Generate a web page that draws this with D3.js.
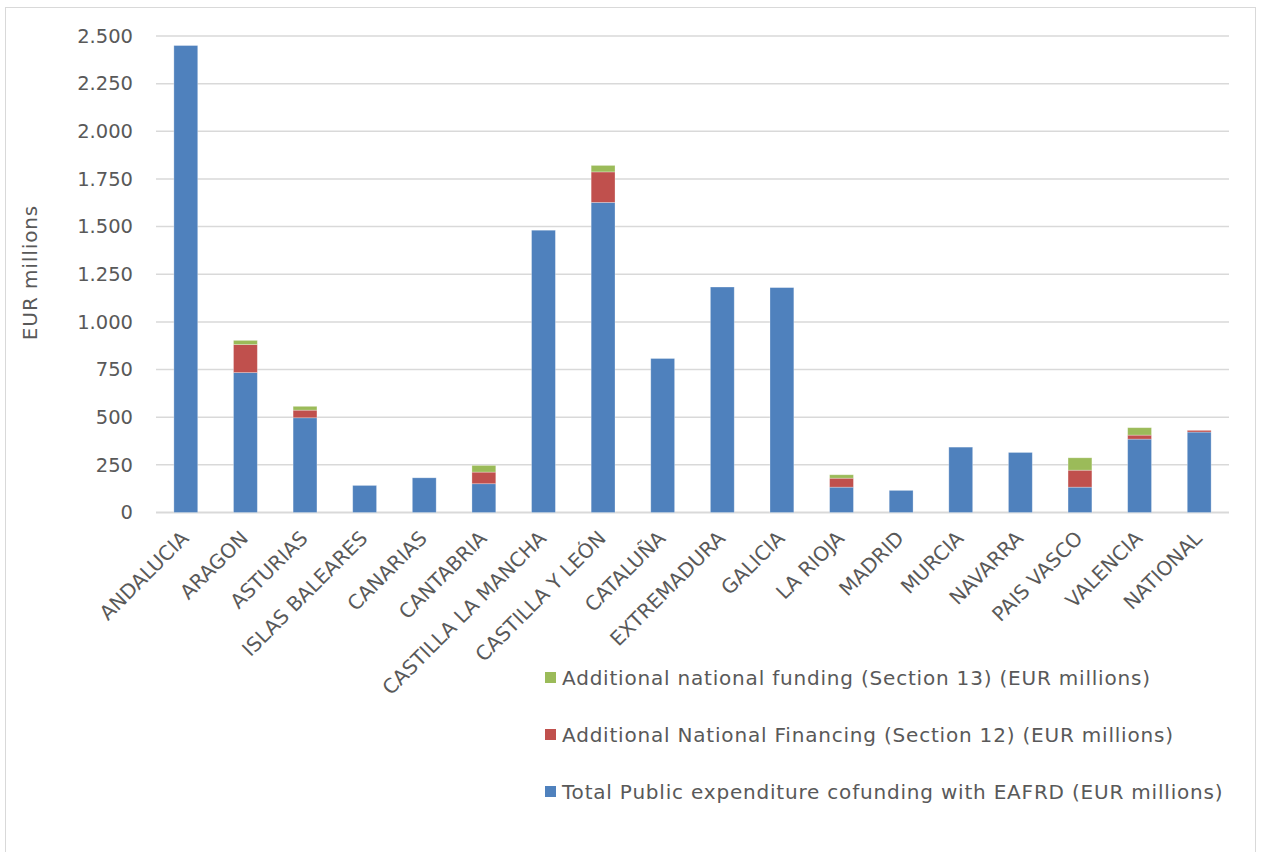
<!DOCTYPE html>
<html>
<head>
<meta charset="utf-8">
<script src="https://cdn.jsdelivr.net/npm/d3@7"></script>
<style>
  html, body { margin: 0; padding: 0; background: #fff; }
  svg { display: block; }
  text { font-family: "DejaVu Sans", Verdana, sans-serif; fill: #595959; }
</style>
</head>
<body>
<svg id="chart" width="1261" height="852"></svg>
<script>
// Regions (programme areas)
const regions = ["ANDALUCIA", "ARAGON", "ASTURIAS", "ISLAS BALEARES", "CANARIAS", "CANTABRIA",
  "CASTILLA LA MANCHA", "CASTILLA Y LEÓN", "CATALUÑA", "EXTREMADURA", "GALICIA", "LA RIOJA",
  "MADRID", "MURCIA", "NAVARRA", "PAIS VASCO", "VALENCIA", "NATIONAL"];

// Total public expenditure co-funded with EAFRD (EUR millions)
const eafrd = [2450, 734, 497, 142, 182, 151, 1481, 1627, 808, 1183, 1180, 133, 116, 343, 315, 133, 385, 422];
// Additional national financing, Section 12 (EUR millions)
const section12 = [0, 147, 40, 0, 0, 61, 0, 160, 0, 0, 0, 47, 0, 0, 0, 89, 21, 9];
// Additional national funding, Section 13 (EUR millions)
const section13 = [0, 22, 20, 0, 0, 35, 0, 34, 0, 0, 0, 18, 0, 0, 0, 65, 39, 0];

const yTicks = [0, 250, 500, 750, 1000, 1250, 1500, 1750, 2000, 2250, 2500];

const seriesNames = [
  "Total Public expenditure cofunding with EAFRD (EUR millions)",
  "Additional National Financing (Section 12) (EUR millions)",
  "Additional national funding (Section 13) (EUR millions)"
];
const seriesColors = ["#4f81bd", "#c0504d", "#9bbb59"];

const svg = d3.select("#chart");

// outer chart frame
svg.append("rect")
  .attr("x", 5.5).attr("y", 7.5).attr("width", 1250).attr("height", 860)
  .attr("fill", "#fff").attr("stroke", "#d9d9d9").attr("stroke-width", 1);

const plot = { left: 156, right: 1229, top: 36, bottom: 512.5 };

const x = d3.scaleBand().domain(regions).range([plot.left, plot.right]).paddingInner(0.6).paddingOuter(0.3);
const y = d3.scaleLinear().domain([0, 2500]).range([plot.bottom, plot.top]);

// gridlines
svg.append("g").selectAll("line").data(yTicks).join("line")
  .attr("x1", plot.left).attr("x2", plot.right)
  .attr("y1", d => y(d)).attr("y2", d => y(d))
  .attr("stroke", "#d9d9d9").attr("stroke-width", d => d === 0 ? 2 : 1.5);

// y axis labels
const fmt = d => d3.format(",")(d).replace(/,/g, ".");
const yAxis = d3.axisLeft(y).tickValues(yTicks).tickFormat(fmt).tickSize(0).tickPadding(0);
const yg = svg.append("g").attr("transform", `translate(133,0)`).call(yAxis);
yg.select(".domain").remove();
yg.selectAll("text").attr("font-size", 19.5).attr("fill", "#595959")
  .style("font-family", '"DejaVu Sans", Verdana, sans-serif');

// y axis title
svg.append("text")
  .attr("transform", `translate(37,272.5) rotate(-90)`)
  .attr("text-anchor", "middle").attr("font-size", 20).attr("letter-spacing", 0.9)
  .text("EUR millions");

// stacked data
const rows = regions.map((r, i) => ({ region: r, s0: eafrd[i], s1: section12[i], s2: section13[i] }));
const stack = d3.stack().keys(["s0", "s1", "s2"]);
const layers = stack(rows);

svg.append("g").selectAll("g").data(layers).join("g")
  .attr("fill", (d, i) => seriesColors[i])
  .selectAll("rect").data(d => d.filter(p => p[1] - p[0] > 0)).join("rect")
  .attr("x", d => x(d.data.region))
  .attr("width", x.bandwidth())
  .attr("y", d => y(d[1]))
  .attr("height", d => y(d[0]) - y(d[1]))
  .attr("stroke", "rgba(255,255,255,0.35)").attr("stroke-width", 0.8);

// x axis labels, rotated
svg.append("g").selectAll("text").data(regions).join("text")
  .attr("transform", d => `translate(${x(d) + x.bandwidth() / 2 + 4},${plot.bottom + 27}) rotate(-45)`)
  .attr("text-anchor", "end").attr("font-size", 20)
  .text(d => d);

// legend
const legendOrder = [2, 1, 0];
const lg = svg.append("g").selectAll("g").data(legendOrder).join("g")
  .attr("transform", (d, i) => `translate(545,${677.5 + i * 57})`);
lg.append("rect").attr("x", 0).attr("y", -5.5).attr("width", 11).attr("height", 11)
  .attr("fill", d => seriesColors[d]);
lg.append("text").attr("x", 17).attr("y", 0).attr("dy", "0.35em").attr("font-size", 20)
  .attr("letter-spacing", 0.8)
  .text(d => seriesNames[d]);
</script>
</body>
</html>
